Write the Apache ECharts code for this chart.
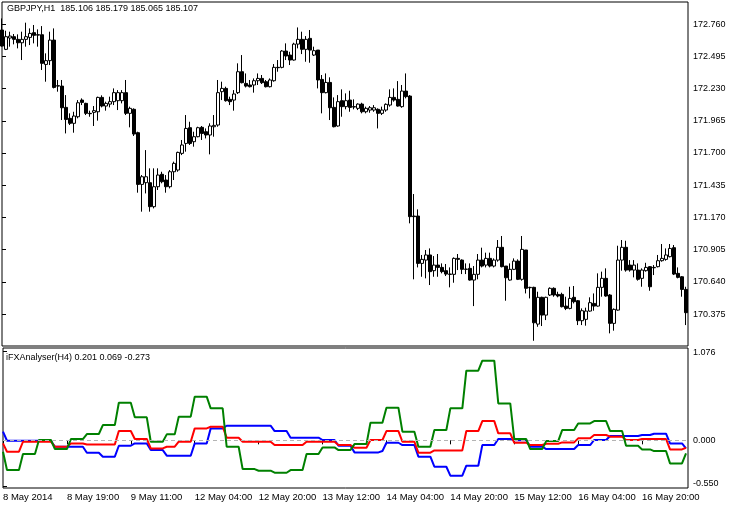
<!DOCTYPE html>
<html><head><meta charset="utf-8">
<script src="https://cdn.jsdelivr.net/npm/echarts@6/dist/echarts.min.js"></script>
<style>html,body{margin:0;padding:0;background:#fff}#c{width:740px;height:508px}</style>
</head><body><div id="c"></div>
<script>
const symbolTitle = 'GBPJPY,H1  185.106 185.179 185.065 185.107';
const indicatorTitle = 'iFXAnalyser(H4) 0.201 0.069 -0.273';
const timeLabels = ['8 May 2014','8 May 19:00','9 May 11:00','12 May 04:00','12 May 20:00','13 May 12:00','14 May 04:00','14 May 20:00','15 May 12:00','16 May 04:00','16 May 20:00'];
const timeLabelBars = [0,16,32,48,64,80,96,112,128,144,160];
const priceTicks = [170.375,170.640,170.905,171.170,171.435,171.700,171.965,172.230,172.495,172.760];
const indicatorTicks = [1.076, 0, -0.55];

const open = [
172.711,172.552,172.645,172.656,172.634,172.606,172.634,172.650,172.689,172.672,
172.672,172.428,172.459,172.628,172.253,172.250,172.075,171.985,171.944,171.998,
172.135,172.108,172.026,172.034,172.039,172.157,172.086,172.102,172.122,172.130,
172.130,172.196,172.026,172.059,171.867,171.442,171.456,171.456,171.259,171.423,
171.525,171.478,171.423,171.546,171.560,171.697,171.779,171.908,171.793,171.834,
171.911,171.875,171.848,171.916,171.930,172.204,172.231,172.141,172.135,172.196,
172.368,172.272,172.259,172.259,172.294,172.313,172.286,172.245,172.294,172.404,
172.404,172.538,172.505,172.464,172.595,172.634,172.552,172.642,172.505,172.546,
172.305,172.196,172.280,172.075,171.922,172.130,172.081,172.135,172.081,172.067,
172.102,172.039,172.053,172.053,172.059,172.026,172.053,172.094,172.157,172.141,
172.081,172.209,172.168,171.182,171.182,170.793,170.820,170.862,170.733,170.779,
170.760,170.733,170.705,170.703,170.834,170.820,170.744,170.752,170.656,170.703,
170.820,170.779,170.834,170.771,170.820,170.925,170.771,170.656,170.744,170.812,
170.662,170.903,170.593,170.596,170.294,170.514,170.368,170.533,170.588,170.538,
170.538,170.442,170.423,170.514,170.486,170.322,170.333,170.401,170.464,170.442,
170.596,170.670,170.533,170.300,170.409,170.820,170.925,170.779,170.738,170.738,
170.670,170.733,170.766,170.760,170.766,170.815,170.826,170.848,170.922,170.711,
170.683,170.579];
const high = [
172.806,172.705,172.697,172.678,172.675,172.697,172.771,172.724,172.752,172.716,
172.743,172.519,172.697,172.724,172.300,172.300,172.176,172.026,172.039,172.135,
172.149,172.113,172.048,172.086,172.163,172.174,172.122,172.163,172.231,172.217,
172.217,172.300,172.081,172.067,171.875,171.519,171.724,171.574,171.574,171.574,
171.546,171.519,171.560,171.629,171.711,171.807,172.012,171.957,171.875,171.916,
171.922,171.902,171.944,172.012,172.300,172.286,172.245,172.163,172.217,172.437,
172.505,172.354,172.300,172.313,172.354,172.341,172.300,172.313,172.431,172.464,
172.546,172.601,172.532,172.606,172.732,172.697,172.661,172.711,172.574,172.546,
172.341,172.354,172.322,172.157,172.176,172.223,172.190,172.212,172.141,172.108,
172.113,172.081,172.086,172.094,172.067,172.081,172.108,172.223,172.231,172.291,
172.259,172.354,172.176,171.363,171.237,170.862,170.903,170.916,170.853,170.870,
170.793,170.788,170.760,170.842,170.870,170.826,170.793,170.793,170.771,170.870,
170.922,170.881,170.881,170.834,170.985,171.018,170.771,170.793,170.834,170.826,
171.018,170.903,170.601,170.601,170.560,170.519,170.519,170.596,170.596,170.560,
170.552,170.519,170.601,170.607,170.492,170.423,170.429,170.514,170.546,170.711,
170.725,170.752,170.541,170.423,170.938,170.985,170.979,170.820,170.820,170.793,
170.752,170.798,170.771,170.779,170.862,170.952,170.916,170.952,170.944,170.760,
170.689,170.601];
const low = [
172.574,172.546,172.574,172.593,172.560,172.464,172.574,172.587,172.601,172.574,
172.382,172.286,172.423,172.231,172.204,171.971,171.861,171.930,171.867,171.985,
172.094,172.012,171.998,171.922,171.966,172.075,172.048,172.075,172.094,172.053,
172.108,172.012,171.911,171.840,171.374,171.218,171.368,171.218,171.245,171.396,
171.451,171.374,171.409,171.478,171.546,171.683,171.711,171.766,171.752,171.829,
171.807,171.820,171.689,171.834,171.916,172.135,172.122,172.094,172.048,172.185,
172.272,172.239,172.239,172.196,172.259,172.267,172.239,172.239,172.286,172.368,
172.396,172.464,172.423,172.459,172.560,172.513,172.450,172.442,172.497,172.231,
172.026,172.190,171.971,171.911,171.916,171.998,172.059,172.039,172.059,172.053,
172.026,172.026,172.031,172.039,171.902,172.012,172.039,172.081,172.122,172.081,
172.072,172.149,171.122,170.662,170.760,170.683,170.670,170.615,170.683,170.683,
170.711,170.689,170.596,170.634,170.738,170.705,170.705,170.651,170.442,170.662,
170.760,170.760,170.760,170.760,170.807,170.760,170.486,170.651,170.738,170.656,
170.651,170.546,170.505,170.157,170.272,170.278,170.327,170.525,170.519,170.514,
170.431,170.409,170.415,170.464,170.286,170.286,170.281,170.396,170.404,170.437,
170.519,170.519,170.218,170.240,170.404,170.733,170.725,170.725,170.678,170.651,
170.601,170.725,170.568,170.697,170.760,170.807,170.815,170.842,170.697,170.670,
170.519,170.286];
const close = [
172.579,172.656,172.661,172.634,172.606,172.634,172.656,172.683,172.667,172.669,
172.437,172.459,172.628,172.239,172.250,172.072,171.976,171.944,172.004,172.113,
172.116,172.026,172.023,172.048,172.157,172.086,172.108,172.122,172.196,172.196,
172.196,172.026,172.067,171.856,171.442,171.505,171.505,171.259,171.423,171.519,
171.464,171.423,171.546,171.615,171.705,171.766,171.902,171.779,171.834,171.908,
171.861,171.848,171.922,171.927,172.196,172.231,172.130,172.122,172.185,172.368,
172.278,172.250,172.245,172.294,172.313,172.278,172.245,172.300,172.404,172.401,
172.538,172.497,172.464,172.595,172.634,172.552,172.634,172.546,172.541,172.300,
172.196,172.280,172.072,171.916,172.122,172.081,172.130,172.075,172.078,172.102,
172.039,172.067,172.072,172.072,172.026,172.053,172.100,172.157,172.135,172.086,
172.209,172.163,171.177,171.177,170.793,170.826,170.862,170.725,170.779,170.760,
170.725,170.705,170.703,170.834,170.826,170.744,170.746,170.656,170.703,170.820,
170.771,170.834,170.771,170.820,170.925,170.766,170.675,170.744,170.812,170.662,
170.908,170.588,170.596,170.305,170.514,170.368,170.514,170.588,170.533,170.525,
170.437,170.423,170.505,170.478,170.322,170.404,170.401,170.470,170.442,170.596,
170.670,170.525,170.300,170.415,170.820,170.925,170.738,170.738,170.779,170.662,
170.738,170.760,170.601,170.757,170.815,170.834,170.862,170.916,170.705,170.678,
170.579,170.388];

const green = [
-0.137,
-0.358,-0.358,-0.358,-0.358, -0.165,-0.165,-0.165,-0.165, 0.004,0.004,0.004,0.004, -0.105,-0.105,-0.105,-0.105,
0.016,0.016,0.016,0.016, 0.076,0.076,0.076,0.076, 0.184,0.184,0.184,0.184, 0.453,0.453,0.453,0.453,
0.277,0.277,0.277,0.277, -0.017,-0.017,-0.017,-0.017, 0.072,0.072,0.072,
0.285,0.285,0.285,0.285, 0.526,0.526,0.526,0.526, 0.385,0.385,0.385,0.385, -0.077,-0.077,-0.077,-0.077,
-0.346,-0.346,-0.346,-0.346, -0.366,-0.366,-0.366,-0.366, -0.390,-0.390,-0.390,-0.390, -0.358,-0.358,-0.358,-0.358,
-0.165,-0.165,-0.165,-0.165, -0.085,-0.085,-0.085,-0.085, -0.117,-0.117,-0.117,-0.117, -0.045,-0.045,-0.045,-0.045,
0.212,0.212,0.212,0.212, 0.393,0.393,0.393,0.393, 0.104,0.104,0.104,0.104, -0.077,-0.077,-0.077,-0.077,
0.124,0.124,0.124,0.124, 0.385,0.385,0.385,0.385, 0.839,0.839,0.839,0.839, 0.959,0.959,0.959,0.959,
0.445,0.445,0.445,0.445, 0.016,0.016,0.016,0.016, -0.105,-0.105,-0.105,-0.105, -0.009,-0.009,-0.009,-0.009,
0.124,0.124,0.124,0.124, 0.204,0.204,0.204,0.204, 0.232,0.232,0.232,0.232, 0.112,0.112,0.112,0.112,
-0.065,-0.065,-0.065,-0.065, -0.109,-0.109,-0.109, -0.129,-0.129,-0.129,-0.129, -0.278,-0.278,-0.278,-0.278,
-0.157];
const red = [
-0.037,
-0.137,-0.137,-0.137,-0.137, -0.017,-0.017,-0.017,-0.017, -0.017,-0.017,-0.017,-0.017, -0.077,-0.077,-0.077,-0.077,
-0.037,-0.037,-0.037,-0.037, -0.049,-0.049,-0.049,-0.049, -0.049,-0.049,-0.049,-0.049, 0.112,0.112,0.112,0.112,
0.016,0.016,0.016,0.016, -0.097,-0.097,-0.097,-0.097, -0.077,-0.077,-0.077,
-0.017,-0.017,-0.017,-0.017, 0.144,0.144,0.144,0.144, 0.164,0.164,0.164,0.164, 0.032,0.032,0.032,0.032,
-0.017,-0.017,-0.017,-0.017, -0.017,-0.017,-0.017,-0.017, -0.057,-0.057,-0.057,-0.057, -0.057,-0.057,-0.057,-0.057,
-0.017,-0.017,-0.017,-0.017, -0.017,-0.017,-0.017,-0.017, -0.057,-0.057,-0.057,-0.057, -0.089,-0.089,-0.089,-0.089,
0.004,0.004,0.004,0.004, 0.112,0.112,0.112,0.112, -0.017,-0.017,-0.017,-0.017, -0.149,-0.149,-0.149,-0.149,
-0.121,-0.121,-0.121,-0.121, -0.121,-0.121,-0.121,-0.121, 0.112,0.112,0.112,0.112, 0.232,0.232,0.232,0.232,
0.084,0.084,0.084,0.084, -0.029,-0.029,-0.029,-0.029, -0.057,-0.057,-0.057,-0.057, -0.041,-0.041,-0.041,-0.041,
-0.025,-0.025,-0.025,-0.025, 0.024,0.024,0.024,0.024, 0.064,0.064,0.064,0.064, 0.044,0.044,0.044,0.044,
0.004,0.004,0.004,0.004, 0.016,0.016,0.016, 0.016,0.016,0.016,0.016, -0.109,-0.109,-0.109,-0.109,
-0.089];
const blue = [
0.104,
-0.005,-0.005,-0.005,-0.005, -0.005,-0.005,-0.005,-0.005, -0.005,-0.005,-0.005,-0.005, -0.077,-0.077,-0.077,-0.077,
-0.077,-0.077,-0.077,-0.077, -0.149,-0.149,-0.149,-0.149, -0.197,-0.197,-0.197,-0.197, -0.065,-0.065,-0.065,-0.065,
-0.037,-0.037,-0.037,-0.037, -0.117,-0.117,-0.117,-0.117, -0.185,-0.185,-0.185,
-0.185,-0.185,-0.185,-0.185, -0.037,-0.037,-0.037,-0.037, 0.144,0.144,0.144,0.144, 0.176,0.176,0.176,0.176,
0.176,0.176,0.176,0.176, 0.176,0.176,0.176,0.176, 0.112,0.112,0.112,0.112, 0.032,0.032,0.032,0.032,
0.032,0.032,0.032,0.032, 0.004,0.004,0.004,0.004, -0.065,-0.065,-0.065,-0.065, -0.145,-0.145,-0.145,-0.145,
-0.145,-0.145,-0.145,-0.129, -0.029,-0.029,-0.029,-0.029, -0.057,-0.057,-0.057,-0.057, -0.197,-0.197,-0.197,-0.197,
-0.318,-0.318,-0.318,-0.318, -0.426,-0.426,-0.426,-0.426, -0.306,-0.306,-0.306,-0.306, -0.057,-0.057,-0.057,-0.057,
0.016,0.016,0.016,0.016, 0.000,0.000,0.000,0.000, -0.077,-0.077,-0.077,-0.077, -0.105,-0.105,-0.105,-0.105,
-0.105,-0.105,-0.105,-0.105, -0.057,-0.057,-0.057,-0.057, 0.004,0.004,0.004,0.004, 0.052,0.052,0.052,0.052,
0.052,0.052,0.052,0.052, 0.064,0.064,0.064, 0.080,0.080,0.080,0.080, -0.037,-0.037,-0.037,-0.037,
-0.097];

const FONT = 'Liberation Sans';
const candles = open.map((o, i) => [i, o, close[i], low[i], high[i]]);
const idx = v => v.map((y, i) => [i, y]);

const chart = echarts.init(document.getElementById('c'), null, {renderer: 'canvas'});
chart.setOption({
  animation: false,
  backgroundColor: '#ffffff',
  textStyle: {fontFamily: FONT, color: '#000'},
  title: [
    {text: symbolTitle, left: 7, top: 4, padding: 0, textStyle: {fontFamily: FONT, fontSize: 9, fontWeight: 'normal', color: '#000'}},
    {text: indicatorTitle, left: 6, top: 353, padding: 0, textStyle: {fontFamily: FONT, fontSize: 9, fontWeight: 'normal', color: '#000'}}
  ],
  grid: [
    {left: 2, width: 686, top: 2, height: 344, show: true, borderColor: '#000', borderWidth: 1, backgroundColor: '#fff'},
    {left: 2, width: 686, top: 348, height: 140, show: true, borderColor: '#000', borderWidth: 1, backgroundColor: '#fff'}
  ],
  xAxis: [
    {type: 'value', gridIndex: 0, min: 0, max: 171.5, axisLine: {show: false}, axisTick: {show: false}, axisLabel: {show: false}, splitLine: {show: false}},
    {type: 'value', gridIndex: 1, min: 0, max: 171.5, axisLine: {show: false}, splitLine: {show: false},
     axisTick: {show: true, length: 4, customValues: timeLabelBars, lineStyle: {color: '#000'}},
     axisLabel: {show: true, customValues: timeLabelBars, align: 'left', margin: 4, fontSize: 9.5, fontFamily: FONT, color: '#000',
       formatter: v => timeLabels[timeLabelBars.indexOf(Math.round(v))] || ''}}
  ],
  yAxis: [
    {type: 'value', gridIndex: 0, position: 'right', min: 170.114, max: 172.941, scale: true,
     axisLine: {show: false}, splitLine: {show: false},
     axisTick: {show: true, length: 4, customValues: priceTicks, lineStyle: {color: '#000'}},
     axisLabel: {show: true, customValues: priceTicks, margin: 5, fontSize: 9, fontFamily: FONT, color: '#000', formatter: v => v.toFixed(3)}},
    {type: 'value', gridIndex: 1, position: 'right', min: -0.574, max: 1.112,
     axisLine: {show: false}, splitLine: {show: false},
     axisTick: {show: true, length: 4, customValues: indicatorTicks, lineStyle: {color: '#000'}},
     axisLabel: {show: true, customValues: indicatorTicks, margin: 5, fontSize: 9, fontFamily: FONT, color: '#000',
       formatter: v => v > 0.5 ? '{t|' + v.toFixed(3) + '}' : (v < -0.1 ? '{b|' + v.toFixed(3) + '}' : v.toFixed(3)),
       rich: {t: {padding: [4, 0, 0, 0], fontSize: 9, fontFamily: FONT}, b: {padding: [0, 0, 5, 0], fontSize: 9, fontFamily: FONT}}}}
  ],
  series: [
    {type: 'candlestick', xAxisIndex: 0, yAxisIndex: 0, data: candles, encode: {x: 0, y: [1, 2, 3, 4]},
     barWidth: 3, clip: true,
     itemStyle: {color: '#ffffff', color0: '#000000', borderColor: '#000000', borderColor0: '#000000', borderWidth: 1}},
    {type: 'line', xAxisIndex: 1, yAxisIndex: 1, data: idx(blue), showSymbol: false, symbol: 'none',
     lineStyle: {color: '#0000ff', width: 2}, itemStyle: {color: '#0000ff'},
     markLine: {silent: true, symbol: 'none', label: {show: false}, data: [{yAxis: 0}], lineStyle: {color: '#b4b4b4', type: [4, 3], width: 1}}},
    {type: 'line', xAxisIndex: 1, yAxisIndex: 1, data: idx(red), showSymbol: false, symbol: 'none',
     lineStyle: {color: '#ff0000', width: 2}, itemStyle: {color: '#ff0000'}},
    {type: 'line', xAxisIndex: 1, yAxisIndex: 1, data: idx(green), showSymbol: false, symbol: 'none',
     lineStyle: {color: '#008000', width: 2}, itemStyle: {color: '#008000'}}
  ]
});
</script></body></html>
